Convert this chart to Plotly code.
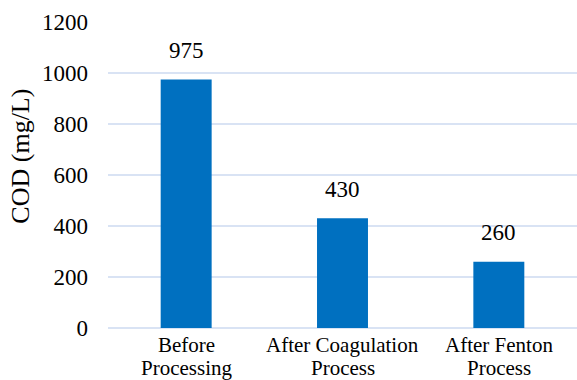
import plotly.graph_objects as go

# COD measurements at each treatment stage
stages = ["Before Processing", "After Coagulation Process", "After Fenton Process"]
stage_lines = [["Before", "Processing"], ["After Coagulation", "Process"], ["After Fenton", "Process"]]
cod_values = [975, 430, 260]
y_ticks = [0, 200, 400, 600, 800, 1000, 1200]

FONT = "Liberation Serif"
BAR_COLOR = "#0070C0"
GRID_COLOR = "#D9E3F4"

fig = go.Figure(
    go.Bar(
        x=stages,
        y=cod_values,
        marker=dict(color=BAR_COLOR, line=dict(width=0)),
        hoverinfo="skip",
    )
)

annotations = []
# value labels above each bar
for s, v in zip(stages, cod_values):
    annotations.append(dict(
        x=s, y=v, xref="x", yref="y", text=str(v), showarrow=False,
        yanchor="middle", yshift=29, font=dict(family=FONT, size=23, color="#000000"),
    ))
# two-line category labels under the axis
for s, lines in zip(stages, stage_lines):
    for i, line in enumerate(lines):
        annotations.append(dict(
            x=s, y=0, xref="x", yref="paper", text=line, showarrow=False,
            yanchor="middle", yshift=-17 - 23 * i,
            font=dict(family=FONT, size=21, color="#000000"),
        ))
# y-axis title
annotations.append(dict(
    x=0, y=0.56, xref="paper", yref="paper", text="COD (mg/L)", showarrow=False,
    textangle=-90, xanchor="center", yanchor="middle", xshift=-87,
    font=dict(family=FONT, size=26, color="#000000"),
))

fig.update_layout(
    width=577,
    height=380,
    margin=dict(l=108, r=0, t=22, b=52),
    paper_bgcolor="white",
    plot_bgcolor="white",
    bargap=0.674,
    showlegend=False,
    annotations=annotations,
    font=dict(family=FONT, color="#000000"),
)
fig.update_xaxes(
    showticklabels=False, showgrid=False, zeroline=False, showline=False, ticks="",
)
fig.update_yaxes(
    range=[0, 1200],
    tickvals=y_ticks,
    ticktext=[str(t) for t in y_ticks],
    showgrid=True, gridcolor=GRID_COLOR, gridwidth=1.5,
    zeroline=True, zerolinecolor=GRID_COLOR, zerolinewidth=1.5,
    showline=False, ticks="",
    ticklabelstandoff=19,
    tickfont=dict(family=FONT, size=23, color="#000000"),
)

fig.write_html("out.html")
